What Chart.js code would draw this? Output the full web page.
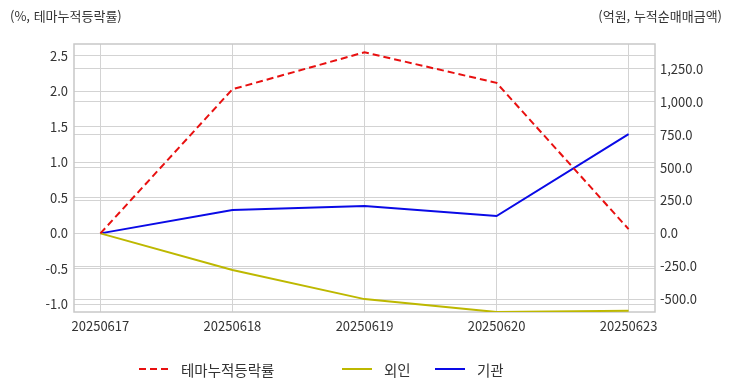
<!DOCTYPE html>
<html lang="ko">
<head>
<meta charset="utf-8">
<script src="https://cdn.jsdelivr.net/npm/chart.js@4/dist/chart.umd.min.js"></script>
<style>
  html, body { margin: 0; padding: 0; background: #fff; }
  #wrap { position: relative; width: 732px; height: 392px; font-family: "Noto Sans CJK KR", "Noto Sans", sans-serif; color: #333; }
  canvas { position: absolute; left: 0; top: 0; }
  .ttl { position: absolute; top: 6px; font-size: 13px; color: #333; white-space: nowrap; }
  #legend { position: absolute; top: 358px; left: 0; width: 732px; height: 22px; font-size: 14.5px; color: #333; }
  .li { position: absolute; top: 0; height: 22px; display: flex; align-items: center; white-space: nowrap; }
  .li svg { margin-right: 12px; }
</style>
</head>
<body>
<div id="wrap">
  <canvas id="c" width="732" height="392"></canvas>
  <div class="ttl" style="left:10px;">(%, 테마누적등락률)</div>
  <div class="ttl" style="right:10px;">(억원, 누적순매매금액)</div>
  <div id="legend"></div>
</div>
<script>
// ---- data ----
const dates = ["20250617", "20250618", "20250619", "20250620", "20250623"];
const themeReturn = [0.0, 2.03, 2.55, 2.12, 0.06];      // %, left axis
const foreignNet = [0.0, -278, -500, -598, -588];       // 억원, right axis
const institutionNet = [0.0, 178, 208, 132, 755];       // 억원, right axis
const leftTicks = [-1.0, -0.5, 0.0, 0.5, 1.0, 1.5, 2.0, 2.5];
const rightTicks = [-500, -250, 0, 250, 500, 750, 1000, 1250];
const seriesNames = ["테마누적등락률", "외인", "기관"];

const RED = "#e81010", OLIVE = "#bdb800", BLUE = "#0a0ae6";
const FONT = "'Noto Sans CJK KR', 'Noto Sans', sans-serif";

const toPts = arr => arr.map((v, i) => ({ x: i, y: v }));

const frame = {
  id: "frame",
  beforeDatasetsDraw(chart) {
    const { ctx, chartArea: a } = chart;
    ctx.save();
    ctx.strokeStyle = "#c8c8c8";
    ctx.lineWidth = 1.5;
    ctx.strokeRect(a.left, a.top, a.right - a.left, a.bottom - a.top);
    ctx.restore();
  }
};

new Chart(document.getElementById("c"), {
  type: "line",
  data: {
    datasets: [
      { label: seriesNames[0], data: toPts(themeReturn), yAxisID: "y", borderColor: RED, backgroundColor: RED, borderWidth: 2, borderDash: [7, 4], pointRadius: 0, tension: 0 },
      { label: seriesNames[1], data: toPts(foreignNet), yAxisID: "y1", borderColor: OLIVE, backgroundColor: OLIVE, borderWidth: 2, pointRadius: 0, tension: 0 },
      { label: seriesNames[2], data: toPts(institutionNet), yAxisID: "y1", borderColor: BLUE, backgroundColor: BLUE, borderWidth: 2, pointRadius: 0, tension: 0 }
    ]
  },
  options: {
    responsive: false,
    animation: false,
    devicePixelRatio: 1,
    layout: { padding: { top: 44, left: 0, right: 0, bottom: 0 } },
    plugins: { legend: { display: false }, tooltip: { enabled: false } },
    scales: {
      x: {
        type: "linear", min: -0.2, max: 4.2,
        afterBuildTicks: s => { s.ticks = dates.map((d, i) => ({ value: i })); },
        afterFit: s => { s.height = 80; },
        grid: { color: "#d3d3d3", lineWidth: 1, drawTicks: false },
        border: { display: false },
        ticks: { padding: 6, color: "#333", font: { family: FONT, size: 13 }, maxRotation: 0, autoSkip: false, callback: v => dates[v] }
      },
      y: {
        position: "left", min: -1.107, max: 2.667,
        afterBuildTicks: s => { s.ticks = leftTicks.map(v => ({ value: v })); },
        afterFit: s => { s.width = 74; },
        grid: { color: "#d3d3d3", lineWidth: 1, drawTicks: false },
        border: { display: false },
        ticks: { padding: 6, color: "#333", font: { family: FONT, size: 13 }, callback: v => Number(v).toFixed(1) }
      },
      y1: {
        position: "right", min: -598, max: 1440,
        afterBuildTicks: s => { s.ticks = rightTicks.map(v => ({ value: v })); },
        afterFit: s => { s.width = 77; },
        grid: { color: "#d3d3d3", lineWidth: 1, drawTicks: false, drawOnChartArea: true },
        border: { display: false },
        ticks: { padding: 5, color: "#333", font: { family: FONT, size: 13 },
          callback: v => Number(v).toLocaleString("en-US", { minimumFractionDigits: 1, maximumFractionDigits: 1 }) }
      }
    }
  },
  plugins: [frame]
});

// ---- HTML legend ----
const legendItems = [
  { name: seriesNames[0], color: RED, dash: "7,4", left: 139 },
  { name: seriesNames[1], color: OLIVE, dash: "", left: 342 },
  { name: seriesNames[2], color: BLUE, dash: "", left: 435 }
];
const lg = document.getElementById("legend");
legendItems.forEach(it => {
  const d = document.createElement("div");
  d.className = "li";
  d.style.left = it.left + "px";
  d.innerHTML = `<svg width="30" height="6"><line x1="0" y1="3" x2="30" y2="3" stroke="${it.color}" stroke-width="2" ${it.dash ? `stroke-dasharray="${it.dash}"` : ""}/></svg>`;
  const t = document.createElement("span");
  t.textContent = it.name;
  d.appendChild(t);
  lg.appendChild(d);
});
</script>
</body>
</html>
